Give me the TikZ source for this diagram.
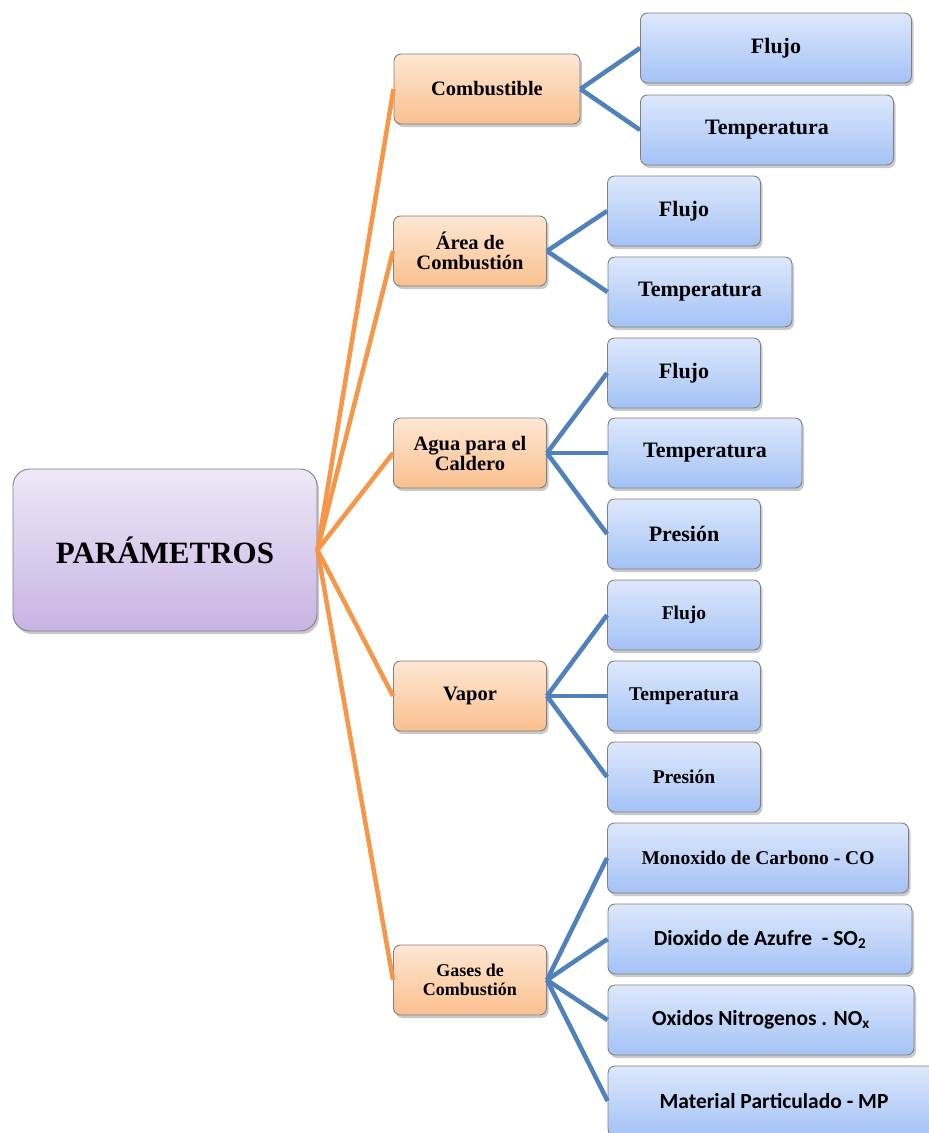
\documentclass[tikz,border=0pt]{standalone}
\usepackage{fontspec}
\setmainfont{Liberation Serif}
\newfontfamily\calibri{Carlito}
\usetikzlibrary{shadows}
\definecolor{lineorange}{HTML}{F79646}
\definecolor{lineblue}{HTML}{4F81BD}
\definecolor{rootTop}{HTML}{EEE8F7}
\definecolor{rootBot}{HTML}{C7B4E3}
\definecolor{catTop}{HTML}{FEE7D4}
\definecolor{catBot}{HTML}{FAC08E}
\definecolor{leafTop}{HTML}{DDE8FC}
\definecolor{leafBot}{HTML}{A4C2F6}
\tikzset{
  box/.style={draw=black!50, line width=0.9pt, rounded corners=7pt,
    minimum height=70pt, inner sep=2pt, align=center,
    drop shadow={shadow xshift=2pt, shadow yshift=-3pt, opacity=0.3, fill=black!70}},
  rootbox/.style={box, rounded corners=17pt, minimum width=304pt, minimum height=162pt,
    top color=rootTop, bottom color=rootBot,
    font=\fontsize{31}{34}\selectfont\bfseries},
  catbox/.style={box, top color=catTop, bottom color=catBot,
    font=\fontsize{20.5}{20}\selectfont\bfseries},
  leafbox/.style={box, top color=leafTop, bottom color=leafBot,
    font=\fontsize{22}{24}\selectfont\bfseries},
  smallleaf/.style={leafbox, font=\fontsize{19.5}{21}\selectfont\bfseries},
  sansleaf/.style={leafbox, font=\fontsize{21.5}{24}\calibri\bfseries},
  trunk/.style={lineorange, line width=4.5pt},
  branch/.style={lineblue, line width=4.5pt}
}
\begin{document}
\begin{tikzpicture}[x=1pt, y=-1pt]
  \useasboundingbox (0,0) rectangle (929,1133);
  \draw
    (165,550) node[rootbox] (r){PARÁMETROS}
    (487,89) node[catbox, minimum width=186pt] (c1){Combustible}
    (470,251) node[catbox, minimum width=153pt] (c2){Área de\\Combustión}
    (470,453) node[catbox, minimum width=153pt] (c3){Agua para el\\Caldero}
    (470,696) node[catbox, minimum width=153pt] (c4){Vapor}
    (470,980) node[catbox, minimum width=153pt, font=\fontsize{18}{19}\selectfont\bfseries] (c5){Gases de\\Combustión}
    (776,48) node[leafbox, minimum width=271pt] (f1){Flujo}
    (767,130) node[leafbox, minimum width=253pt] (t1){Temperatura}
    (684,211) node[leafbox, minimum width=153pt] (f2){Flujo}
    (700,292) node[leafbox, minimum width=184pt] (t2){Temperatura}
    (684,373) node[leafbox, minimum width=153pt] (f3){Flujo}
    (705,453) node[leafbox, minimum width=194pt] (t3){Temperatura}
    (684,534) node[leafbox, minimum width=153pt] (p3){Presión}
    (684,615) node[smallleaf, minimum width=153pt] (f4){Flujo}
    (684,696) node[smallleaf, minimum width=153pt] (t4){Temperatura}
    (684,777) node[smallleaf, minimum width=153pt] (p4){Presión}
    (758,858) node[smallleaf, minimum width=301pt] (g1){Monoxido de Carbono - CO}
    (760,939) node[sansleaf, minimum width=304pt] (g2){Dioxido de Azufre~~- SO\textsubscript{2}}
    (761,1020) node[sansleaf, minimum width=306pt] (g3){Oxidos Nitrogenos . NO\textsubscript{x}}
    (774,1101) node[sansleaf, minimum width=332pt] (g4){Material Particulado - MP};
  \begin{scope}[trunk]
    \draw (r.east) to (c1.west);
    \draw (r.east) to (c2.west);
    \draw (r.east) to (c3.west);
    \draw (r.east) to (c4.west);
    \draw (r.east) to (c5.west);
  \end{scope}
  \begin{scope}[branch]
    \draw (c1.east) to (f1.west);
    \draw (c1.east) to (t1.west);
    \draw (c2.east) to (f2.west);
    \draw (c2.east) to (t2.west);
    \draw (c3.east) to (f3.west);
    \draw (c3.east) to (t3.west);
    \draw (c3.east) to (p3.west);
    \draw (c4.east) to (f4.west);
    \draw (c4.east) to (t4.west);
    \draw (c4.east) to (p4.west);
    \draw (c5.east) to (g1.west);
    \draw (c5.east) to (g2.west);
    \draw (c5.east) to (g3.west);
    \draw (c5.east) to (g4.west);
  \end{scope}
\end{tikzpicture}
\end{document}
